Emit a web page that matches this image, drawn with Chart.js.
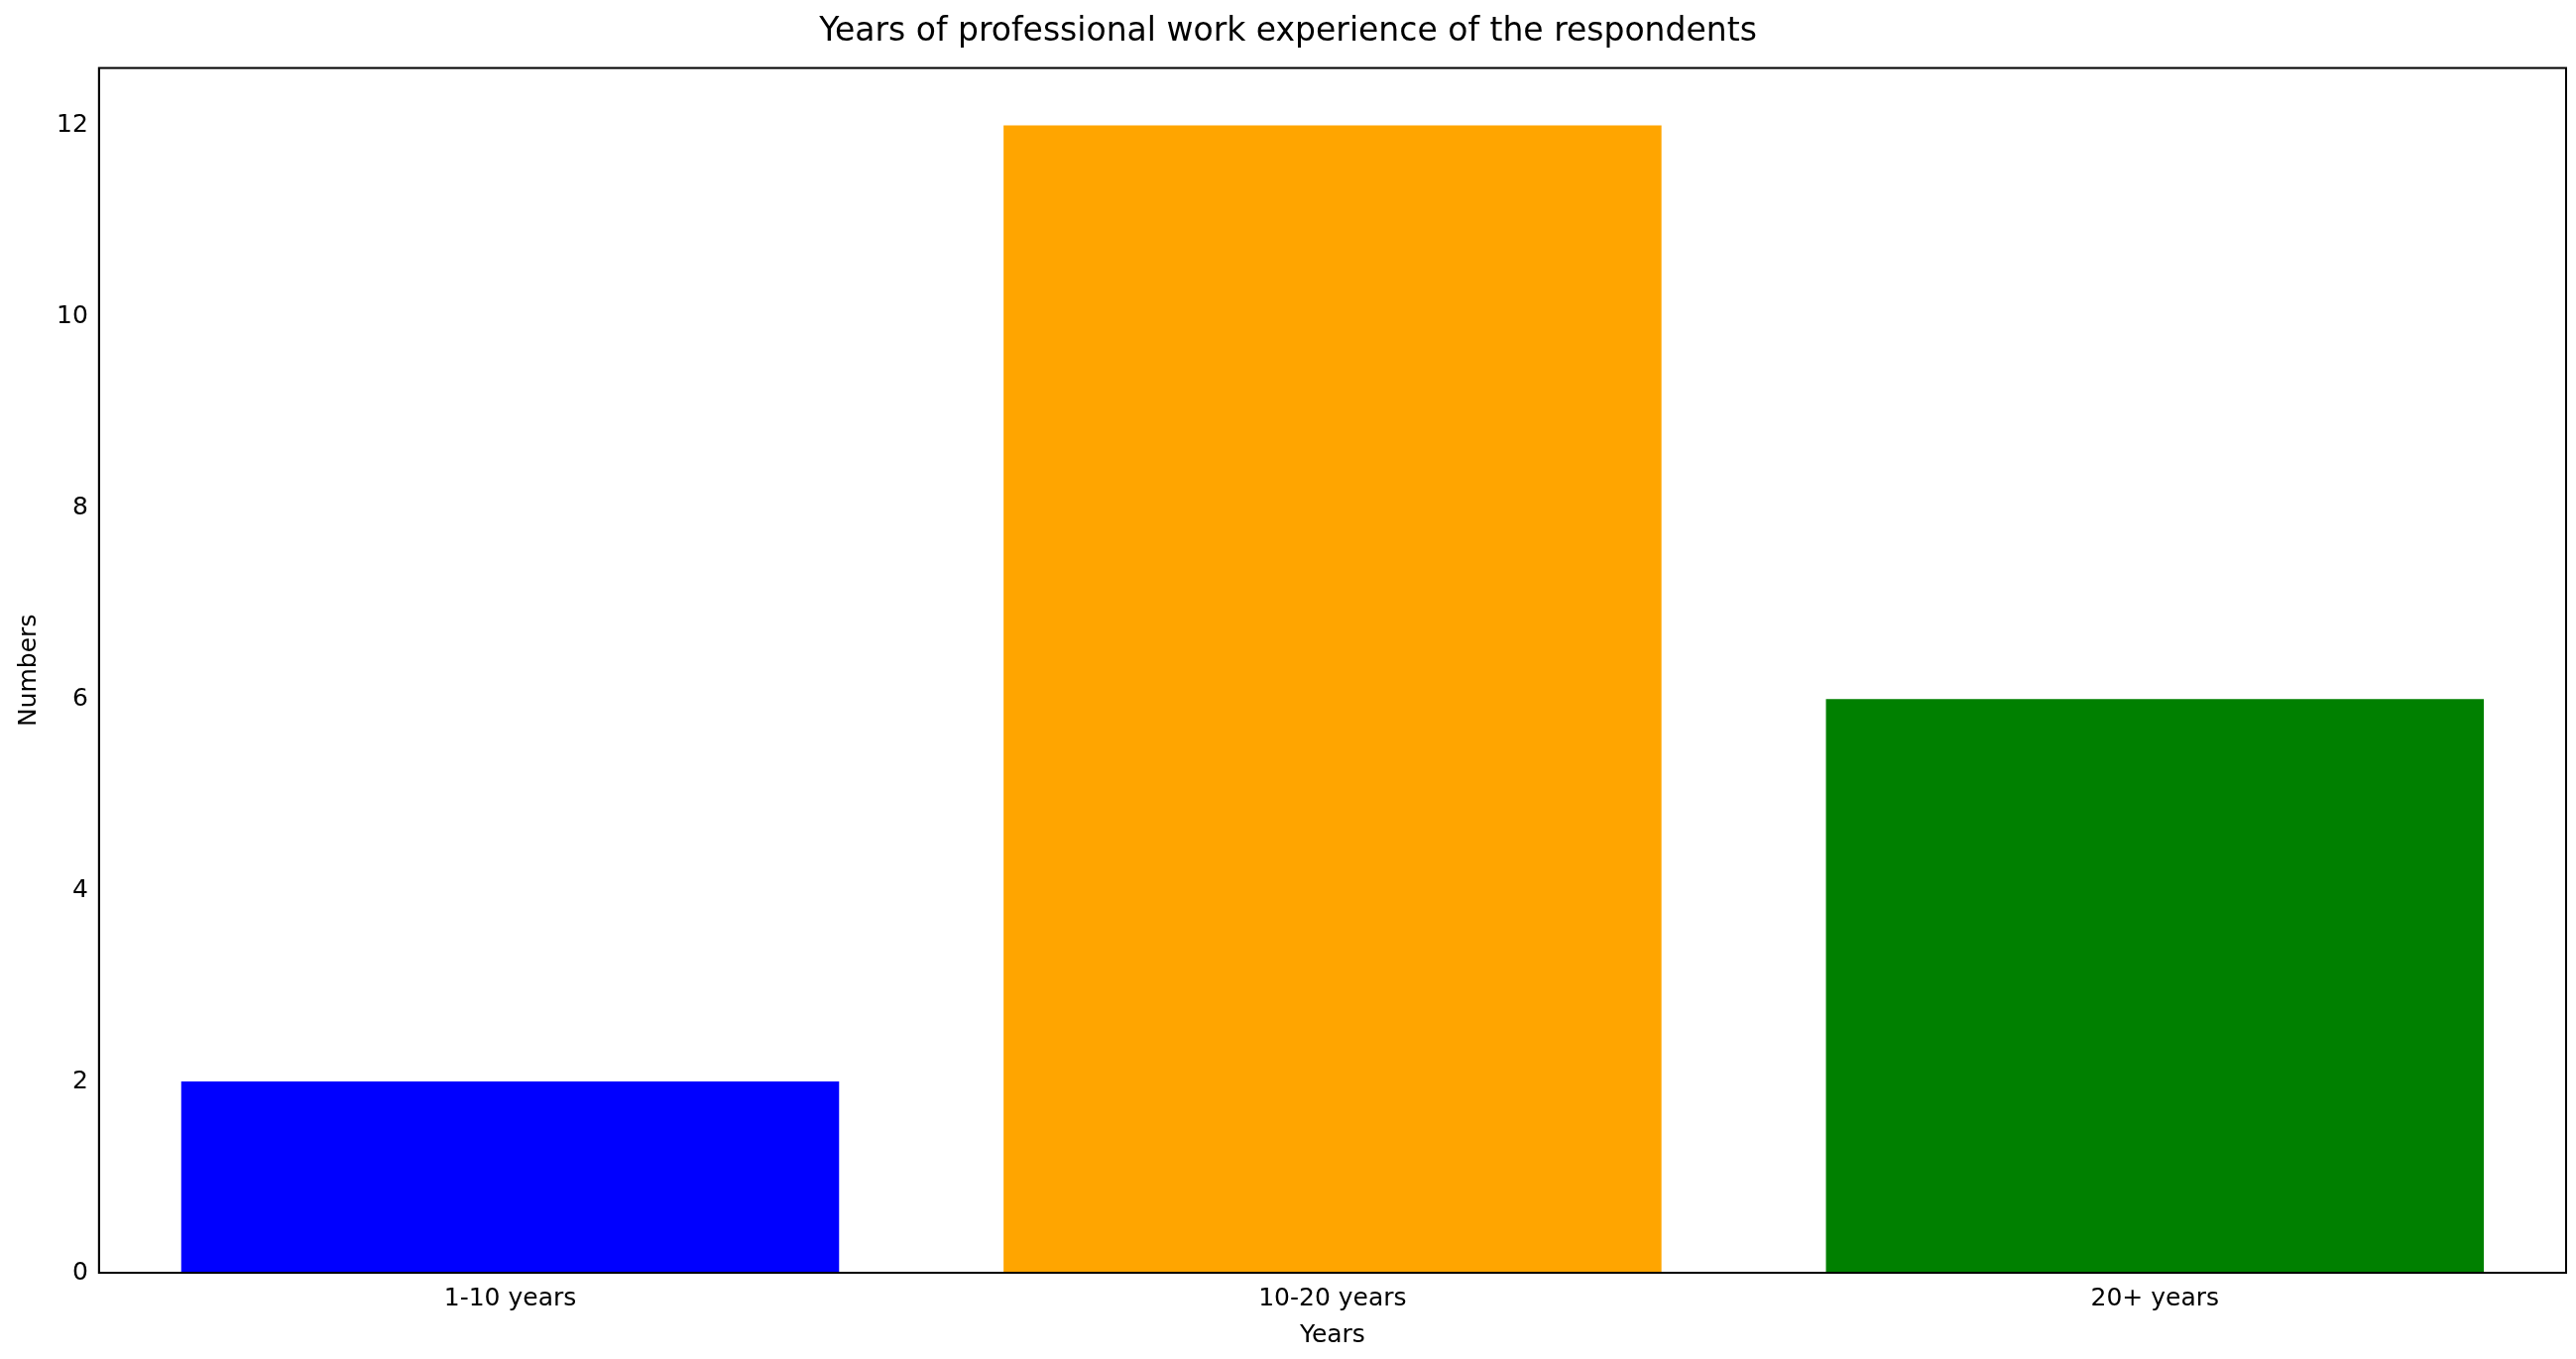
<!DOCTYPE html>
<html><head><meta charset="utf-8">
<script src="https://cdn.jsdelivr.net/npm/chart.js@4"></script>
<style>html,body{margin:0;background:#fff}#w{width:2598px;height:1371px}</style>
</head><body><div id="w"><canvas id="c"></canvas></div>
<script>
const categories = ["1-10 years", "10-20 years", "20+ years"];
const values = [2, 12, 6];
const colors = ["#0000ff", "#ffa500", "#008000"];
const yTicks = [0, 2, 4, 6, 8, 10, 12];
Chart.defaults.font.family = "'DejaVu Sans'";
Chart.defaults.color = "#000";
new Chart(document.getElementById('c'), {
  type: 'bar',
  data: { labels: categories, datasets: [{ data: values, backgroundColor: colors, barPercentage: 0.8, categoryPercentage: 1.0 }] },
  options: {
    responsive: true, maintainAspectRatio: false, animation: false,
    layout: { padding: { left: 10, right: 10, top: 5, bottom: 5 } },
    plugins: {
      legend: { display: false },
      title: { display: true, text: 'Years of professional work experience of the respondents', font: { size: 33, weight: 'normal' }, padding: { top: 8, bottom: 16 } }
    },
    scales: {
      x: { grid: { display: false, drawTicks: true, tickLength: 8 }, border: { color: '#000', width: 2 },
           ticks: { font: { size: 25 }, color: '#000' },
           title: { display: true, text: 'Years', font: { size: 25 }, padding: { top: 4 } } },
      y: { min: 0, max: 12.6, grid: { display: false, tickLength: 8 }, border: { color: '#000', width: 2 },
           afterBuildTicks: s => { s.ticks = yTicks.map(v => ({ value: v })); },
           ticks: { font: { size: 25 }, color: '#000' },
           title: { display: true, text: 'Numbers', font: { size: 25 }, padding: { bottom: 10 } } }
    }
  },
  plugins: [{ id: 'frame', afterDraw(ch) { const a = ch.chartArea, c = ch.ctx; c.save(); c.strokeStyle = '#000'; c.lineWidth = 2; c.strokeRect(a.left, a.top, a.right - a.left, a.bottom - a.top); c.restore(); } }]
});
</script></body></html>
